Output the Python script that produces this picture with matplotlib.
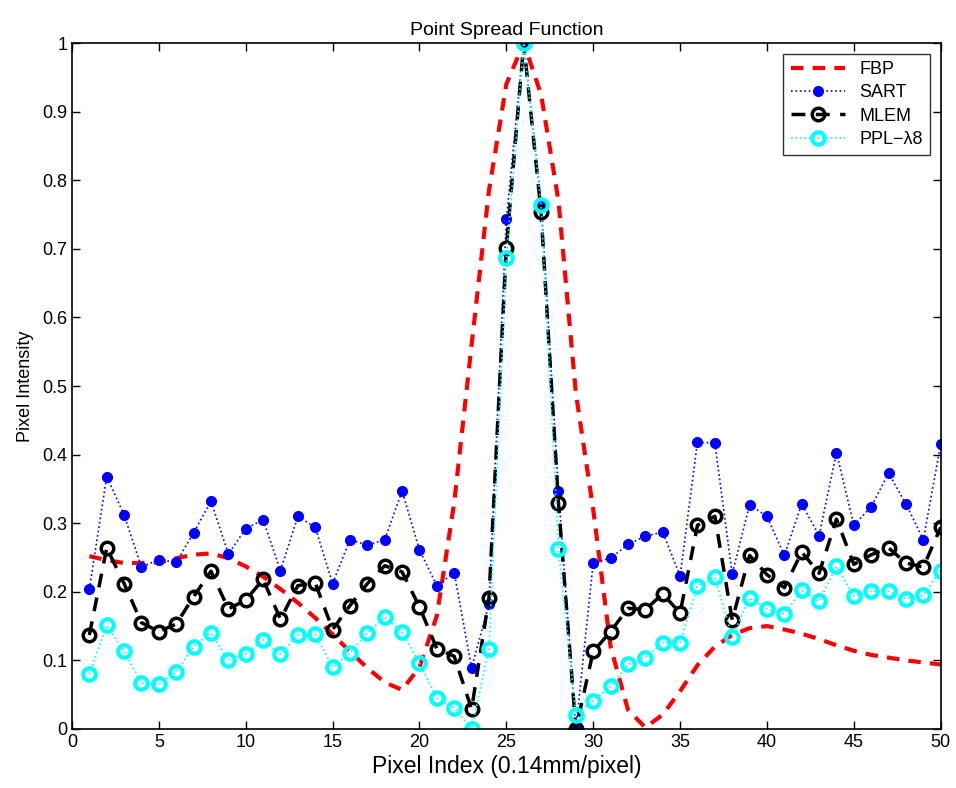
import numpy as np
import matplotlib
matplotlib.use('Agg')
import matplotlib.pyplot as plt

plt.rcParams['font.family'] = ['Liberation Sans', 'DejaVu Sans']

pixel = np.arange(1, 51)

fbp = [0.252, 0.246, 0.242, 0.242, 0.243, 0.249, 0.254, 0.256, 0.249, 0.237,
       0.222, 0.204, 0.184, 0.162, 0.138, 0.113, 0.089, 0.068, 0.057, 0.090,
       0.165, 0.330, 0.560, 0.785, 0.940, 1.000, 0.925, 0.770, 0.490, 0.320,
       0.120, 0.028, 0.002, 0.021, 0.055, 0.093, 0.120, 0.137, 0.147, 0.150,
       0.145, 0.139, 0.131, 0.122, 0.114, 0.108, 0.104, 0.100, 0.097, 0.094]

sart = [0.204, 0.368, 0.312, 0.236, 0.247, 0.243, 0.286, 0.332, 0.255, 0.292,
        0.305, 0.231, 0.310, 0.294, 0.212, 0.276, 0.268, 0.276, 0.347, 0.261,
        0.209, 0.228, 0.089, 0.182, 0.743, 1.000, 0.767, 0.347, 0.000, 0.242,
        0.249, 0.269, 0.281, 0.287, 0.223, 0.418, 0.417, 0.226, 0.327, 0.310,
        0.253, 0.328, 0.282, 0.403, 0.297, 0.324, 0.373, 0.328, 0.276, 0.415]

mlem = [0.137, 0.264, 0.212, 0.155, 0.142, 0.153, 0.193, 0.230, 0.175, 0.188,
        0.218, 0.160, 0.209, 0.213, 0.145, 0.180, 0.212, 0.238, 0.229, 0.178,
        0.117, 0.106, 0.029, 0.191, 0.701, 1.000, 0.753, 0.329, 0.000, 0.113,
        0.142, 0.176, 0.174, 0.197, 0.169, 0.297, 0.310, 0.159, 0.253, 0.225,
        0.206, 0.258, 0.227, 0.306, 0.240, 0.254, 0.264, 0.242, 0.236, 0.294]

ppl = [0.080, 0.151, 0.114, 0.067, 0.065, 0.083, 0.120, 0.140, 0.101, 0.109,
       0.130, 0.109, 0.137, 0.138, 0.090, 0.111, 0.140, 0.163, 0.141, 0.096,
       0.045, 0.031, 0.000, 0.116, 0.687, 1.000, 0.764, 0.262, 0.021, 0.041,
       0.062, 0.094, 0.104, 0.126, 0.126, 0.209, 0.221, 0.134, 0.191, 0.175,
       0.168, 0.202, 0.186, 0.237, 0.194, 0.201, 0.201, 0.190, 0.195, 0.231]

fig = plt.figure(figsize=(9.56, 7.88), dpi=100)
ax = fig.add_axes([0.0753, 0.0749, 0.9087, 0.8705])

ax.plot(pixel, fbp, color='red', ls=(0, (3, 2.2)), lw=3, label='FBP')
ax.plot(pixel, sart, color='blue', ls=':', lw=1.2, marker='o', ms=7,
        mfc='blue', mec='blue', label='SART')
ax.plot(pixel, mlem, color='black', ls=(0, (4, 3)), lw=2.5, marker='o', ms=9,
        mfc='none', mec='black', mew=2.5, label='MLEM')
ax.plot(pixel, ppl, color='cyan', ls=':', lw=1.2, marker='o', ms=9,
        mfc='none', mec='cyan', mew=3, label='PPL\u2212\u03bb8')

ax.set_xlim(0, 50)
ax.set_ylim(0, 1)
ax.set_xticks(np.arange(0, 51, 5))
ax.set_yticks(np.arange(0, 1.01, 0.1))
ax.set_yticklabels(['0', '0.1', '0.2', '0.3', '0.4', '0.5', '0.6', '0.7', '0.8', '0.9', '1'])
ax.tick_params(direction='in', top=True, right=True, labelsize=13, length=6, width=1)
for s in ax.spines.values():
    s.set_linewidth(1.2)

ax.set_xlabel('Pixel Index (0.14mm/pixel)', fontsize=16.5, labelpad=3)
ax.set_ylabel('Pixel Intensity', fontsize=13, labelpad=6)
ax.set_title('Point Spread Function', fontsize=14, pad=6)

leg = ax.legend(loc='upper right', fontsize=13, frameon=True, fancybox=False,
                edgecolor='black', handlelength=3, borderaxespad=0.6, labelspacing=0.35)
leg.get_frame().set_linewidth(1)

fig.savefig('out.png', dpi=100)
